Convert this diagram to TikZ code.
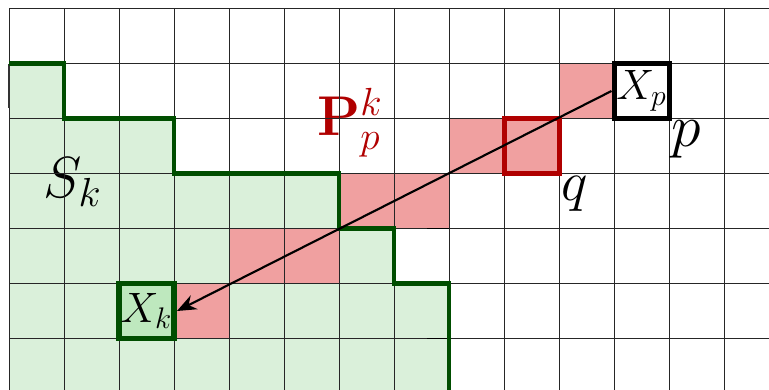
\RequirePackage{fix-cm}
\documentclass[tikz,border=0pt]{standalone}
\usepackage{amsmath}
\usepackage{amssymb}
\usetikzlibrary{calc, positioning}
\usetikzlibrary{arrows.meta}

\definecolor{pathred}{RGB}{240,160,160}
\definecolor{setgreen}{RGB}{218,240,218}
\definecolor{startgreen}{RGB}{190,232,190}
\definecolor{darkgreen}{RGB}{0,78,0}
\definecolor{darkred}{RGB}{176,0,0}

\begin{document}
\begin{tikzpicture}[
    gridline/.style={black!85, line width=0.5pt},
    setborder/.style={darkgreen, line width=2.3pt},
    pixel/.style={minimum size=1cm, inner sep=0pt, line width=2.6pt},
    bigmath/.style={font=\fontsize{#1}{#1}\selectfont},
  ]
      \useasboundingbox (-0.164,0.082) rectangle (13.818,7.155);
      \clip (-0.164,0.082) rectangle (13.818,7.155);

      % the set S_k
      \fill[setgreen] (0,6) -| (1,5) -| (3,4) -| (6,3) -| (7,2) -| (8,-1) -- (0,-1) -- cycle;

      % cells crossed by the line
      \foreach \x/\y in {3/1, 4/2, 5/2, 6/3, 7/3, 8/4, 9/4, 10/5}
        \fill[pathred] (\x,\y) rectangle ++(1,1);

      \node[bigmath=30] (sk) at (1.155,3.836) {$S_k$};
      \node[bigmath=29, text=darkred] (pk) at (6.2,4.927) {$\mathbf{P}_p^k$};

      \draw[gridline] (0,-1) grid (14,7);
      \draw[black, line width=1pt] (7.6,3) -- (8,3);
      \draw[black, line width=1pt] (7.6,1) -- (8,1);
      \draw[black!80, line width=1pt] (0,6) -- (0,5.2);

      \draw[setborder] (0,6) -| (1,5) -| (3,4) -| (6,3) -| (7,2) -| (8,-1);

      \node[pixel, draw=darkred, fill=pathred] (q) at (9.5,4.5) {};
      \node[pixel, draw=black, fill=white, bigmath=22] (xp) at (11.5,5.5) {$X_p$};
      \node[pixel, draw=darkgreen, fill=startgreen, line width=3pt, bigmath=22] (xk) at (2.5,1.5) {$X_k$};

      \node[bigmath=31] (plabel) at (12.32,4.627) {$p$};
      \node[bigmath=29] (qlabel) at (10.29,3.636) {$q$};

      \draw[line width=1.1pt, -{Stealth[length=10pt, width=8pt]}] (xp.west) -- (xk.east);
    \end{tikzpicture}
\end{document}
